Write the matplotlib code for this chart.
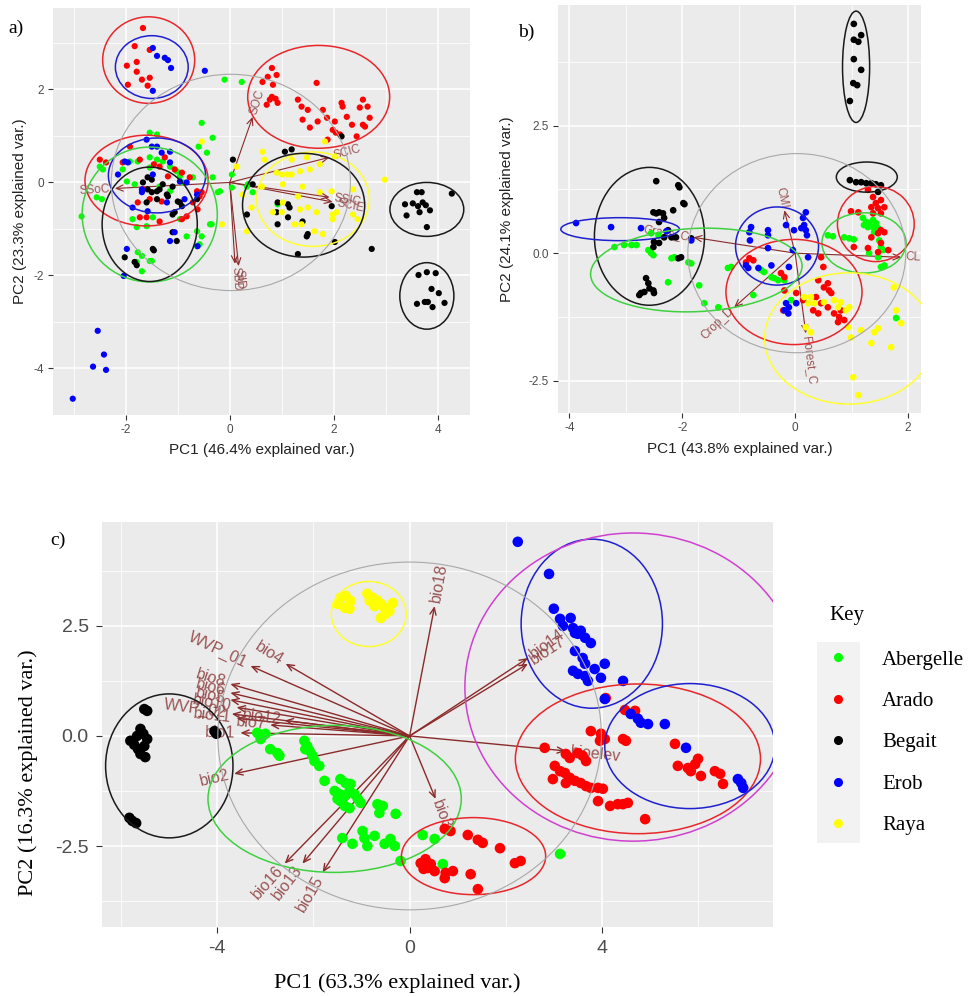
import matplotlib
matplotlib.use('Agg')
import matplotlib.pyplot as plt
from matplotlib.patches import Ellipse, Rectangle
from matplotlib.lines import Line2D
import numpy as np

SANS = ['Liberation Sans', 'DejaVu Sans']
SERIF = ['Liberation Serif', 'DejaVu Serif']

GROUPS = ['Abergelle', 'Arado', 'Begait', 'Erob', 'Raya']
POINT_COLORS = {'Abergelle': '#00FF00', 'Arado': '#FF0000', 'Begait': '#000000',
                'Erob': '#0000FF', 'Raya': '#FFFF00'}
ELL_COLORS = {'Abergelle': '#3ED13E', 'Arado': '#E8262B', 'Begait': '#1A1A1A',
              'Erob': '#1F1FD0', 'Raya': '#FFFF30', 'all': '#A8A8A8', 'pink': '#D040D0'}

# ---------------- panel a data ----------------
A_ABERGELLE = [(-0.54,1.28),(-0.33,0.96),(-0.60,0.77),(-0.44,0.64),(-1.54,1.07),(-1.40,1.03),(-2.50,0.34),
    (-2.44,0.28),(-1.92,0.45),(-1.77,0.45),(-1.54,0.54),(-1.40,0.49),(-1.29,0.45),(-2.06,0.28),(-1.54,0.32),
    (-1.15,0.34),(-1.02,0.24),(-0.96,0.13),(-1.98,0.02),(-1.83,-0.04),(-1.35,-0.09),(-1.15,-0.19),(-0.90,0.00),
    (-0.71,0.11),(-0.33,0.11),(0.04,0.17),(0.04,-0.11),(-0.19,-0.19),(-2.56,-0.32),(-2.46,-0.36),(-2.85,-0.73),
    (-1.87,-0.79),(-1.48,-0.75),(-1.79,-0.96),(-1.60,-0.94),(-0.96,-0.79),(-0.35,-0.90),(-0.63,-1.05),
    (-0.54,-1.16),(-0.83,-1.16),(-0.63,-1.37),(-1.77,-1.50),(-1.69,-1.58),(-1.54,-1.69),(-1.79,-1.71),
    (-1.50,-1.69),(-1.69,-1.91),(-0.58,-1.33),(-0.10,2.21),(0.23,2.16),(0.35,-0.04),(0.44,-0.21),(-0.23,-0.21),
    (-0.38,-0.90),(0.92,-0.47),(0.33,-0.09)]
A_ARADO = [(-1.67,3.32),(-1.83,2.93),(-1.54,2.85),(-1.98,2.51),(-1.79,2.59),(-1.79,2.38),(-1.54,2.25),
    (-1.69,2.21),(-1.96,2.10),(-1.58,2.08),
    (0.81,2.46),(0.73,2.27),(0.90,2.31),(0.63,2.16),(0.83,2.10),(1.67,2.14),(0.81,1.84),(0.92,1.71),(0.77,1.78),
    (0.71,1.67),(0.88,1.80),(1.31,1.78),(1.38,1.63),(1.50,1.56),(1.79,1.56),(2.15,1.71),(2.17,1.63),(2.56,1.78),
    (2.65,1.63),(2.50,1.61),(2.25,1.41),(2.69,1.39),(1.40,1.35),(1.69,1.31),(1.87,1.39),(2.02,1.31),(2.35,1.24),
    (2.56,1.24),(2.60,1.20),(1.54,1.18),(1.98,1.13),(2.04,1.07),(2.12,1.03),(2.44,0.99),(1.88,0.92),
    (-2.50,0.49),(-2.38,0.43),(-1.92,0.77),(-2.06,0.43),(-1.73,0.49),(-1.46,0.39),(-1.35,0.34),(-1.25,0.54),
    (-1.06,0.28),(-0.92,0.21),(-0.77,0.11),(-1.67,-0.15),(-0.63,-0.19),(-0.58,-0.30),(-1.77,-0.43),(-1.54,-0.36),
    (-1.31,-0.41),(-0.71,-0.43),(-1.73,-0.75),(-1.60,-0.75),(-1.35,-0.84),(-0.92,-0.79),(-0.83,-0.73),
    (-0.62,-0.58),(-1.19,0.13),(-0.54,-0.21)]
A_BEGAIT = [(-1.67,0.00),(-1.50,0.06),(-1.58,0.11),(-1.40,-0.19),(-1.58,-0.15),(-1.50,-0.21),(-1.35,-0.15),
    (-1.29,-0.04),(-1.10,-0.09),(-1.21,-0.26),(-1.19,-0.30),(-1.60,-0.43),(-1.40,-0.36),(-1.00,-0.41),
    (-0.96,-0.43),(-0.92,-0.51),(-0.63,-0.36),(-1.06,-0.64),(-1.10,-0.69),(0.06,0.49),(0.44,-0.04),
    (-2.02,-1.61),(-1.83,-1.71),(-1.79,-1.78),(-1.46,-1.46),(-1.02,-1.26),(-1.10,-1.07),(-1.48,-1.43),
    (1.06,0.66),(1.19,0.71),(2.15,0.99),(0.92,-0.43),(1.12,-0.47),(1.15,-0.54),(0.90,-0.64),(0.33,-0.69),
    (0.92,-0.90),(1.12,-0.75),(1.40,-0.84),(1.50,-1.11),(1.96,-0.51),(2.02,-1.28),(2.73,-1.43),(1.31,-1.54),
    (1.48,-1.16),
    (3.60,-0.21),(3.69,-0.21),(4.27,-0.24),(3.37,-0.47),(3.52,-0.45),(3.62,-0.51),(3.71,-0.43),(3.77,-0.49),
    (3.85,-0.60),(3.40,-0.71),(3.65,-0.64),(3.79,-0.96),
    (3.63,-1.99),(3.79,-1.93),(3.96,-1.95),(3.88,-2.29),(4.02,-2.38),(3.60,-2.61),(3.75,-2.57),(3.81,-2.57),
    (3.90,-2.68),(4.13,-2.59)]
A_EROB = [(-1.48,2.89),(-1.40,2.72),(-1.25,2.68),(-1.19,2.63),(-1.13,2.46),(-1.48,1.97),(-0.48,2.40),
    (-1.60,0.92),(-1.50,0.77),(-1.40,0.77),(-1.15,0.66),(-1.31,0.64),(-1.15,0.43),(-2.02,0.45),(-1.96,0.43),
    (-2.15,0.17),(-1.48,0.17),(-0.96,0.02),(-1.69,-0.15),(-1.69,-0.21),(-0.83,0.00),(-0.87,-0.36),(-0.63,-0.26),
    (-1.58,-0.62),(-1.87,-0.54),(-1.21,-0.43),(-1.06,-1.07),(-1.15,-1.26),(-1.98,-1.43),(-2.04,-2.01),
    (-0.62,-1.37),
    (-2.54,-3.19),(-2.42,-3.70),(-2.63,-3.96),(-2.38,-4.03),(-3.02,-4.65)]
A_RAYA = [(1.83,0.88),(2.98,0.06),(0.63,0.66),(0.67,0.49),(1.19,0.49),(1.48,0.54),(2.02,0.56),(1.73,0.39),
    (0.90,0.21),(1.00,0.17),(1.10,0.17),(1.19,0.17),(1.35,0.24),(1.54,0.28),(1.02,-0.04),(0.62,-0.09),
    (1.40,-0.09),(0.25,-0.26),(0.42,-0.54),(1.02,-0.43),(1.31,-0.30),(1.35,-0.58),(1.50,-0.54),(0.83,-0.64),
    (1.00,-0.64),(1.67,-0.64),(1.98,-0.69),(1.98,-0.79),(2.46,-0.79),(2.37,-0.69),(1.25,-0.90),(1.38,-0.90),
    (1.63,-1.05),(1.79,-1.11),(0.33,-1.05),(1.96,-0.19),(2.37,-0.15),(1.73,-0.21),(2.06,-0.64),(-0.54,0.88),
    (-0.15,-0.90),(0.13,0.34)]
A_ELLIPSES = [('Arado',-1.56,2.63,1.77,1.86,0), ('Erob',-1.50,2.48,1.40,1.35,0), ('Arado',1.71,1.84,2.73,2.21,0),
    ('Arado',-1.60,0.04,2.37,1.95,0), ('Erob',-1.40,0.15,1.87,1.61,0), ('Abergelle',-1.54,-0.69,2.60,2.90,0),
    ('Begait',-1.54,-0.90,1.83,2.46,0), ('Raya',1.60,-0.36,2.17,2.03,0), ('Begait',1.42,-0.49,2.35,2.23,0),
    ('Begait',3.79,-0.58,1.42,1.16,0), ('Begait',3.79,-2.44,1.04,1.43,0), ('all',0.02,0.0,4.6,4.65,0)]
A_VARS = ['SOC', 'SSoC', 'SCIC', 'SSIC', 'SCIE', 'SBD', 'SID']
A_VX = [0.44, -2.21, 1.92, 1.92, 1.98, 0.10, 0.17]
A_VY = [1.41, -0.13, 0.54, -0.32, -0.42, -1.75, -1.80]

# ---------------- panel b data ----------------
B_BEGAIT = [(1.04,4.49),(1.17,4.27),(1.04,4.18),(1.12,4.14),(1.04,3.80),(1.17,3.59),(1.03,3.33),(1.10,3.29),
    (0.97,2.98),
    (0.97,1.43),(1.08,1.39),(1.17,1.39),(1.26,1.37),(1.35,1.37),(1.43,1.35),(1.52,1.33),(1.47,1.20),
    (-2.46,1.41),(-2.07,1.33),(-2.05,1.29),(-1.98,0.98),(-1.96,0.96),(-2.16,0.84),(-2.51,0.80),(-2.46,0.78),
    (-2.41,0.80),(-2.34,0.78),(-2.32,0.69),(-2.41,0.61),(-2.25,0.45),(-2.32,0.31),(-2.19,0.31),(-2.11,0.31),
    (-1.84,0.29),(-2.50,0.22),(-2.41,0.20),(-2.51,0.12),(-2.02,-0.08),(-2.07,-0.10),(-2.64,-0.49),(-2.60,-0.59),
    (-2.58,-0.69),(-2.67,-0.76),(-2.73,-0.78),(-2.51,-0.73),(-2.50,-0.78),(-2.76,-0.82)]
B_ARADO = [(1.29,1.24),(1.38,1.10),(1.43,0.98),(1.35,0.90),(1.52,1.04),(1.47,0.88),(1.58,0.90),(1.38,0.78),
    (1.52,0.78),(0.99,0.82),(1.12,0.80),(1.52,0.45),(1.58,0.41),(1.47,0.39),(1.04,0.12),(1.29,0.10),(1.52,0.20),
    (1.65,0.06),(1.47,0.02),(1.35,0.31),
    (-0.81,-0.10),(-0.74,-0.14),(-0.87,-0.18),(-0.25,-0.39),(-0.19,-0.47),(0.46,-0.08),(0.50,-0.27),(0.41,-0.53),
    (0.58,-0.59),(0.51,-0.67),(0.60,-0.73),(0.64,-0.78),(0.37,-0.86),(0.46,-0.98),(0.58,-1.06),(0.32,-1.12),
    (0.41,-1.18),(0.69,-1.18),(0.78,-1.25),(0.87,-1.31),(0.76,-1.35),(0.81,-1.12),(-0.19,-0.73),(0.02,-0.78),
    (0.14,-0.92),(-0.21,-1.12)]
B_ABERGELLE = [(1.20,0.69),(1.26,0.61),(1.31,0.59),(1.38,0.65),(1.43,0.59),(1.29,0.51),(1.38,0.51),(1.47,0.49),
    (1.22,0.55),(1.40,0.41),(1.49,0.25),(1.52,0.12),(1.56,0.06),(1.58,-0.24),(1.52,-0.27),(0.58,0.35),
    (0.67,0.33),(0.87,0.31),(0.96,0.29),(1.04,0.27),(1.31,0.00),(1.47,-0.08),
    (-3.20,0.12),(-3.03,0.16),(-2.90,0.16),(-2.81,0.16),(-2.60,0.06),(-2.55,0.00),(-2.51,-0.04),(-2.25,-0.57),
    (-2.19,-0.10),(-2.14,-0.08),(-1.89,-0.18),(-1.84,-0.20),(-1.70,-0.63),(-1.61,-0.98),(-1.36,-1.06),
    (-1.19,-0.29),(-1.13,-0.27),(-0.74,-0.82),(-0.60,-0.33),(-0.55,-0.37),(-0.42,-0.47),(-0.37,-0.49),
    (-0.30,-0.53),(-0.19,-0.53),(-0.07,-0.92),(-2.55,0.39),(-2.42,0.35),(1.79,-1.27)]
B_EROB = [(0.19,0.80),(0.14,0.69),(0.16,0.55),(0.19,0.45),(0.11,0.49),(0.21,0.35),(-0.02,0.45),(-0.16,0.55),
    (-0.48,0.45),(-0.48,0.35),(-0.78,0.51),(-0.81,0.41),(-0.80,0.25),(-0.48,0.10),(-0.04,0.06),(-0.11,-0.27),
    (0.23,-0.08),(-0.87,-0.24),(-0.83,-0.29),(-0.65,-0.29),(-0.42,-0.24),(-0.16,-0.98),(0.02,-0.98),
    (-0.11,-1.06),(-0.19,-1.12),(-0.12,-1.18),
    (-3.88,0.59),(-3.26,0.51),(-2.73,0.49),(-2.28,0.43),(-1.84,0.25)]
B_RAYA = [(0.16,-0.86),(0.28,-0.86),(0.23,-0.98),(0.34,-0.98),(0.51,-0.96),(0.69,-0.92),(0.81,-0.96),
    (0.76,-1.06),(0.90,-1.12),(0.96,-1.06),(0.19,-1.45),(0.28,-1.55),(0.94,-1.45),(0.99,-1.65),(1.17,-1.51),
    (1.40,-1.55),(1.47,-1.47),(1.35,-1.76),(1.70,-1.84),(1.75,-0.67),(1.79,-1.12),(1.88,-1.37),(1.03,-2.43),
    (1.12,-2.78)]
B_ELLIPSES = [('Begait',1.08,3.65,0.48,2.18,0), ('Begait',1.27,1.49,1.08,0.59,0), ('Arado',1.43,0.57,1.36,1.47,0),
    ('Abergelle',1.22,0.20,1.49,1.18,0), ('Erob',-0.32,0.14,1.47,1.53,0), ('Arado',-0.02,-0.76,2.41,2.06,0),
    ('Raya',0.96,-1.67,3.0,2.57,0), ('Begait',-2.58,0.33,1.95,2.7,0), ('Erob',-3.1,0.47,2.1,0.45,0),
    ('Abergelle',-1.75,-0.33,3.75,1.63,3), ('all',0.03,0.0,3.86,3.9,0)]
B_VARS = ['CMI', 'CL', 'Grass_C', 'Crop_D', 'Forest_C']
B_VX = [-0.19, 1.88, -1.80, -1.08, 0.19]
B_VY = [0.84, -0.08, 0.31, -1.06, -1.57]

# ---------------- panel c data ----------------
C_BEGAIT = [(-5.52,0.61),(-5.46,0.57),(-5.60,0.16),(-5.54,0.05),(-5.46,-0.07),(-5.67,0.00),(-5.81,-0.11),
    (-5.73,-0.20),(-5.65,-0.30),(-5.52,-0.23),(-5.60,-0.41),(-5.50,-0.48),(-5.83,-1.86),(-5.77,-1.93),
    (-5.69,-1.98),(-4.06,0.11),(-4.02,0.05)]
C_RAYA = [(-1.44,3.14),(-1.33,3.18),(-1.23,3.07),(-1.35,2.91),(-1.25,2.89),(-1.50,3.00),(-0.88,3.23),
    (-0.77,3.14),(-0.67,3.07),(-0.60,3.00),(-0.52,2.91),(-0.50,2.77),(-0.60,2.68),(-0.73,2.95),(-0.42,2.84),
    (-0.35,3.02),(-0.83,3.07)]
C_ABERGELLE = [(-3.17,0.07),(-3.06,0.00),(-3.00,0.05),(-3.10,-0.07),(-2.90,-0.30),(-2.75,-0.39),(-2.71,-0.45),
    (-2.19,-0.11),(-2.13,-0.23),(-2.08,-0.34),(-2.02,-0.45),(-2.17,-0.30),(-1.98,-0.57),(-1.88,-0.68),
    (-1.77,-1.02),(-1.44,-0.98),(-1.33,-1.07),(-1.23,-1.09),(-1.56,-1.25),(-1.46,-1.32),(-1.35,-1.36),
    (-1.25,-1.25),(-1.15,-1.32),(-1.08,-1.43),(-1.02,-1.52),(-1.50,-1.43),(-1.35,-1.59),(-1.25,-1.64),
    (-1.44,-1.48),(-0.67,-1.55),(-0.56,-1.59),(-0.63,-1.75),(-0.29,-1.77),(-1.40,-2.32),(-1.19,-2.45),
    (-0.98,-2.16),(-0.94,-2.32),(-0.88,-2.50),(-0.73,-2.27),(-0.52,-2.45),(-0.40,-2.34),(-0.31,-2.50),
    (-0.19,-2.84),(0.27,-2.25),(0.52,-2.34),(0.69,-2.91),(3.13,-2.68)]
C_ARADO = [(0.73,-2.11),(0.85,-2.16),(1.21,-2.25),(1.42,-2.36),(1.52,-2.43),(1.88,-2.55),(2.19,-2.89),
    (2.31,-2.84),(0.23,-2.89),(0.33,-2.80),(0.44,-2.91),(0.38,-3.00),(0.52,-3.07),(0.75,-3.11),(0.90,-3.07),
    (0.73,-3.23),(1.27,-3.14),(1.42,-3.48),(0.29,-3.02),
    (4.08,0.86),(4.48,0.59),(4.69,0.57),(3.77,0.11),(3.98,0.05),(4.06,-0.07),(3.96,-0.11),(4.44,-0.07),
    (4.50,-0.11),(5.52,-0.18),(2.81,-0.27),(3.25,-0.41),(3.33,-0.50),(3.50,-0.39),(3.60,-0.45),(3.67,-0.57),
    (3.02,-0.68),(3.13,-0.80),(3.23,-0.84),(3.33,-0.95),(3.44,-1.02),(3.56,-1.07),(3.67,-1.14),(3.77,-1.18),
    (3.92,-1.18),(4.02,-1.20),(2.98,-0.98),(3.25,-1.07),(3.92,-1.48),(4.17,-1.59),(4.33,-1.55),(4.44,-1.55),
    (4.54,-1.52),(4.90,-1.89),(5.58,-0.68),(5.79,-0.73),(5.94,-0.64),(6.00,-0.52),(5.85,-0.80),(6.06,-0.91),
    (6.35,-0.80),(6.46,-0.86),(6.52,-1.09)]
C_EROB = [(2.25,4.41),(2.90,3.68),(3.00,2.89),(3.13,2.66),(3.19,2.50),(3.35,2.68),(3.40,2.45),(3.44,2.34),
    (3.50,2.32),(3.56,2.39),(3.65,2.23),(3.77,2.11),(3.44,1.93),(3.60,1.77),(3.65,1.64),(3.40,1.48),(3.50,1.41),
    (3.65,1.36),(3.85,1.52),(4.06,1.64),(3.98,1.32),(3.71,1.25),(4.44,1.25),(4.06,0.84),(4.60,0.50),(4.75,0.39),
    (4.81,0.30),(4.96,0.27),(5.31,0.27),(5.75,-0.27),(6.83,-0.98),(6.90,-1.07),(6.94,-1.18)]
C_ELLIPSES = [('Begait',-5.0,-0.68,2.65,3.27,0), ('Abergelle',-1.56,-1.43,5.27,3.34,0),
    ('Arado',1.33,-2.73,3.0,1.75,0), ('Raya',-0.85,2.77,1.56,1.48,0), ('Erob',3.79,2.55,2.94,3.84,0),
    ('Arado',4.75,-0.52,5.1,3.4,0), ('Erob',5.83,-0.23,3.54,2.84,0), ('pink',4.65,1.11,7.0,7.0,0),
    ('all',0.0,0.0,7.98,7.9,0)]
C_VARS = ['bio18', 'WVP_01', 'bio4', 'bio8', 'bio6', 'bio5', 'bio10', 'WVP_02', 'bio11', 'bio1', 'bio12',
          'bio7', 'bio2', 'bio16', 'bio13', 'bio15', 'bio3', 'bioelev', 'bio14', 'bio17']
C_VX = [0.52, -3.31, -2.58, -3.73, -3.73, -3.73, -3.60, -3.70, -3.60, -3.52, -2.60, -2.90, -3.65, -2.60,
        -2.23, -1.81, 0.54, 3.25, 2.46, 2.46]
C_VY = [2.95, 1.59, 1.64, 1.18, 0.98, 0.82, 0.65, 0.50, 0.40, 0.07, 0.35, 0.25, -0.86, -2.90, -2.90, -3.10,
        -1.43, -0.34, 1.77, 1.64]

LEGEND_TITLE = 'Key'


def style_axes(ax, xlim, ylim, xmaj, xminor, ymaj, yminor, xlab, ylab, fs, tlen, pad):
    ax.set_facecolor('#EBEBEB')
    for s in ax.spines.values():
        s.set_visible(False)
    ax.set_xlim(*xlim)
    ax.set_ylim(*ylim)
    ax.set_xticks(xmaj)
    ax.set_xticklabels(xlab)
    ax.set_yticks(ymaj)
    ax.set_yticklabels(ylab)
    ax.set_xticks(xminor, minor=True)
    ax.set_yticks(yminor, minor=True)
    ax.grid(which='major', color='white', lw=1.1)
    ax.grid(which='minor', color='white', lw=0.55)
    ax.set_axisbelow(True)
    ax.tick_params(which='major', length=tlen, width=0.8, color='#333333', labelcolor='#4D4D4D',
                   labelsize=fs, pad=pad)
    ax.tick_params(which='minor', length=0)
    for lab in ax.get_xticklabels() + ax.get_yticklabels():
        lab.set_family(SANS)


def draw_points(ax, pts_by_group, size):
    for g in GROUPS:
        p = np.array(pts_by_group[g])
        ax.scatter(p[:, 0], p[:, 1], s=size, c=POINT_COLORS[g], edgecolors='none', zorder=3)


def draw_ellipses(ax, ells, lw):
    for g, cx, cy, w, h, ang in ells:
        ax.add_patch(Ellipse((cx, cy), w, h, angle=ang, fill=False, ec=ELL_COLORS[g],
                             lw=(0.8 if g == 'all' else lw), zorder=4))


def draw_vars(ax, names, vx, vy, fs, lw, scale_off):
    for n, x, y in zip(names, vx, vy):
        ax.annotate('', xy=(x, y), xytext=(0, 0),
                    arrowprops=dict(arrowstyle='->,head_length=0.5,head_width=0.22', color='#8B2A2A',
                                    lw=lw, shrinkA=0, shrinkB=0), zorder=2)
        rot = np.degrees(np.arctan(y / x))
        ha = 'left' if x > 0 else 'right'
        ax.text(x * scale_off, y * scale_off, n, rotation=rot, rotation_mode='anchor', ha=ha, va='center',
                fontsize=fs, color='#8B3A3A', alpha=0.85, family=SANS, zorder=2.5)


fig = plt.figure(figsize=(9.76, 9.96), dpi=100)
W, H = 976.0, 996.0

def add_ax(l, t, r, b):
    return fig.add_axes([l / W, 1 - b / H, (r - l) / W, (b - t) / H])

axA = add_ax(53, 8, 470, 415)
axB = add_ax(558, 5, 921, 413)
axC = add_ax(102, 522, 773, 927)

# panel a
style_axes(axA, (-3.4, 4.62), (-4.95, 3.75), [-2, 0, 2, 4], [-3, -1, 1, 3], [-4, -2, 0, 2], [-5, -3, -1, 1, 3],
           ['-2', '0', '2', '4'], ['-4', '-2', '0', '2'], 8.5, 3.5, 3)
draw_vars(axA, A_VARS, A_VX, A_VY, 8.5, 0.8, 1.04)
draw_points(axA, dict(zip(GROUPS, [A_ABERGELLE, A_ARADO, A_BEGAIT, A_EROB, A_RAYA])), 20)
draw_ellipses(axA, A_ELLIPSES, 1.1)

# panel b
style_axes(axB, (-4.2, 2.23), (-3.13, 4.86), [-4, -2, 0, 2], [-3, -1, 1], [-2.5, 0, 2.5], [-1.25, 1.25, 3.75],
           ['-4', '-2', '0', '2'], ['-2.5', '0.0', '2.5'], 8.5, 3.5, 3)
draw_vars(axB, B_VARS, B_VX, B_VY, 8.5, 0.8, 1.04)
draw_points(axB, dict(zip(GROUPS, [B_ABERGELLE, B_ARADO, B_BEGAIT, B_EROB, B_RAYA])), 23)
draw_ellipses(axB, B_ELLIPSES, 1.1)

# panel c
style_axes(axC, (-6.4, 7.56), (-4.34, 4.86), [-4, 0, 4], [-6, -2, 2, 6], [-2.5, 0, 2.5], [-3.75, -1.25, 1.25, 3.75],
           ['-4', '0', '4'], ['-2.5', '0.0', '2.5'], 14, 4.5, 5)
draw_vars(axC, C_VARS, C_VX, C_VY, 11.5, 1.0, 1.03)
draw_points(axC, dict(zip(GROUPS, [C_ABERGELLE, C_ARADO, C_BEGAIT, C_EROB, C_RAYA])), 58)
draw_ellipses(axC, C_ELLIPSES, 1.1)

# axis titles
fig.text(262 / W, 1 - 450 / H, 'PC1 (46.4% explained var.)', ha='center', va='center', fontsize=11,
         family=SANS, color='#222222')
fig.text(20 / W, 1 - 211 / H, 'PC2 (23.3% explained var.)', ha='center', va='center', rotation=90,
         fontsize=11, family=SANS, color='#222222')
fig.text(740 / W, 1 - 449 / H, 'PC1 (43.8% explained var.)', ha='center', va='center', fontsize=11,
         family=SANS, color='#222222')
fig.text(507 / W, 1 - 209 / H, 'PC2 (24.1% explained var.)', ha='center', va='center', rotation=90,
         fontsize=11, family=SANS, color='#222222')
fig.text(397 / W, 1 - 983 / H, 'PC1 (63.3% explained var.)', ha='center', va='center', fontsize=16,
         family=SERIF, color='black')
fig.text(28 / W, 1 - 773 / H, 'PC2 (16.3% explained var.)', ha='center', va='center', rotation=90,
         fontsize=16, family=SERIF, color='black')

# panel letters
fig.text(8 / W, 1 - 28 / H, 'a)', ha='left', va='center', fontsize=14, family=SERIF)
fig.text(518 / W, 1 - 32 / H, 'b)', ha='left', va='center', fontsize=14, family=SERIF)
fig.text(50 / W, 1 - 540 / H, 'c)', ha='left', va='center', fontsize=14, family=SERIF)

# legend
fig.patches.append(Rectangle((817 / W, 1 - 843 / H), 43 / W, 201 / H, transform=fig.transFigure,
                             facecolor='#F2F2F2', edgecolor='none', zorder=0))
fig.text(829 / W, 1 - 615 / H, LEGEND_TITLE, ha='left', va='center', fontsize=15, family=SERIF)
handles = [Line2D([], [], marker='o', ls='', color=POINT_COLORS[g], markersize=5.5) for g in GROUPS]
leg = fig.legend(handles, GROUPS, loc='upper left', bbox_to_anchor=(828 / W, 1 - 650 / H),
                 frameon=False, borderpad=0, borderaxespad=0, handlelength=1.0, handletextpad=1.6,
                 labelspacing=1.05, prop={'family': SERIF, 'size': 15})

fig.savefig('out.png', dpi=100)
